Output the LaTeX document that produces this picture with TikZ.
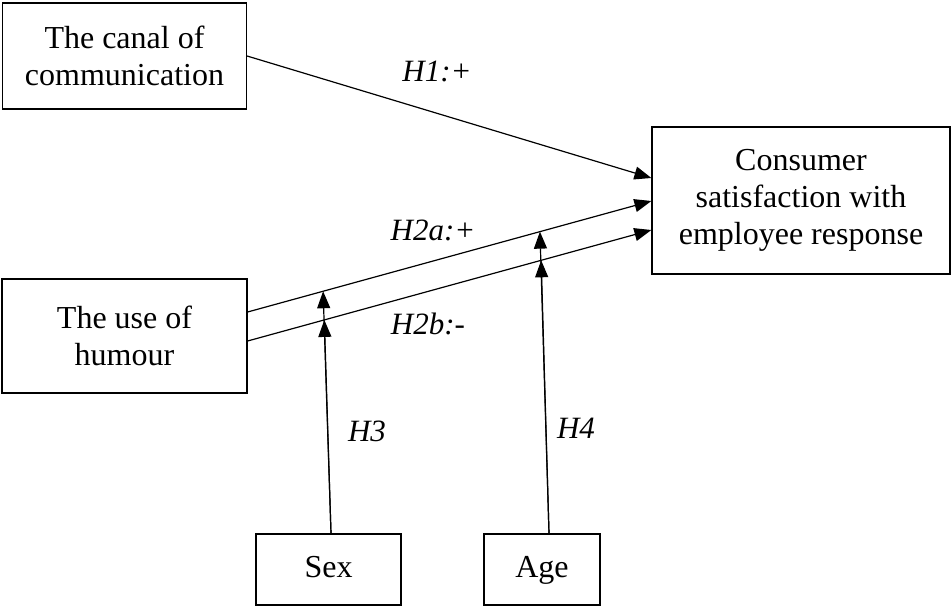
\documentclass[tikz,border=0pt]{standalone}
\usepackage{fontspec}
\setmainfont{Liberation Serif}
\usetikzlibrary{arrows.meta,calc}
\begin{document}
\begin{tikzpicture}[x=1pt,y=-1pt,
  box/.style={draw,line width=1.2pt,align=center,inner sep=0pt,font=\fontsize{32}{37}\selectfont},
  small/.style={box,minimum height=71pt,text height=22pt,text depth=7pt},
  lbl/.style={font=\fontsize{31}{36}\selectfont\itshape,inner sep=0pt},
  conn/.style={line width=1.2pt,-{Triangle[length=17pt,width=13pt]}}]
\useasboundingbox (0,0) rectangle (951,606);
\node[box,minimum width=244pt,minimum height=106pt] (canal) at (124.5,56) {The canal of\\communication};
\node[box,minimum width=298pt,minimum height=147pt] (cons) at (801,200.5) {Consumer\\satisfaction with\\employee response};
\node[box,minimum width=245pt,minimum height=114pt] (hum) at (124.5,336) {The use of\\humour};
\node[small,minimum width=145pt] (sex) at (328.5,569.5) {Sex};
\node[small,minimum width=116pt] (age) at (542,569.5) {Age};
% connector endpoints
\coordinate (c1) at ($(cons.west)+(0,-22.5)$);
\coordinate (c2) at ($(cons.west)+(0,0.5)$);
\coordinate (c3) at ($(cons.west)+(0,29.5)$);
\coordinate (h1) at ($(hum.east)+(0,-24)$);
\coordinate (h2) at ($(hum.east)+(0,5)$);
\coordinate (sx) at ($(sex.north)+(2.5,0)$);
\coordinate (ag) at ($(age.north)+(7,0)$);
\coordinate (s1) at ($(h1)!0.187!(c2)$);
\coordinate (s2) at ($(h2)!0.19!(c3)$);
\coordinate (a1) at ($(h1)!0.724!(c2)$);
\coordinate (a2) at ($(h2)!0.727!(c3)$);
\draw[conn] (canal.east) -- (c1);
\draw[conn] (h1) -- (c2);
\draw[conn] (h2) -- (c3);
\draw[conn] (sx) -- (s1);
\draw[conn] (sx) -- (s2);
\draw[conn] (ag) -- (a1);
\draw[conn] (ag) -- (a2);
\node[lbl] (l1) at (437,71) {H1:+};
\node[lbl] (l2a) at (433,230) {H2a:+};
\node[lbl] (l2b) at (428,324) {H2b:-};
\node[lbl] (l3) at (367,431) {H3};
\node[lbl] (l4) at (576,428) {H4};
\end{tikzpicture}
\end{document}
